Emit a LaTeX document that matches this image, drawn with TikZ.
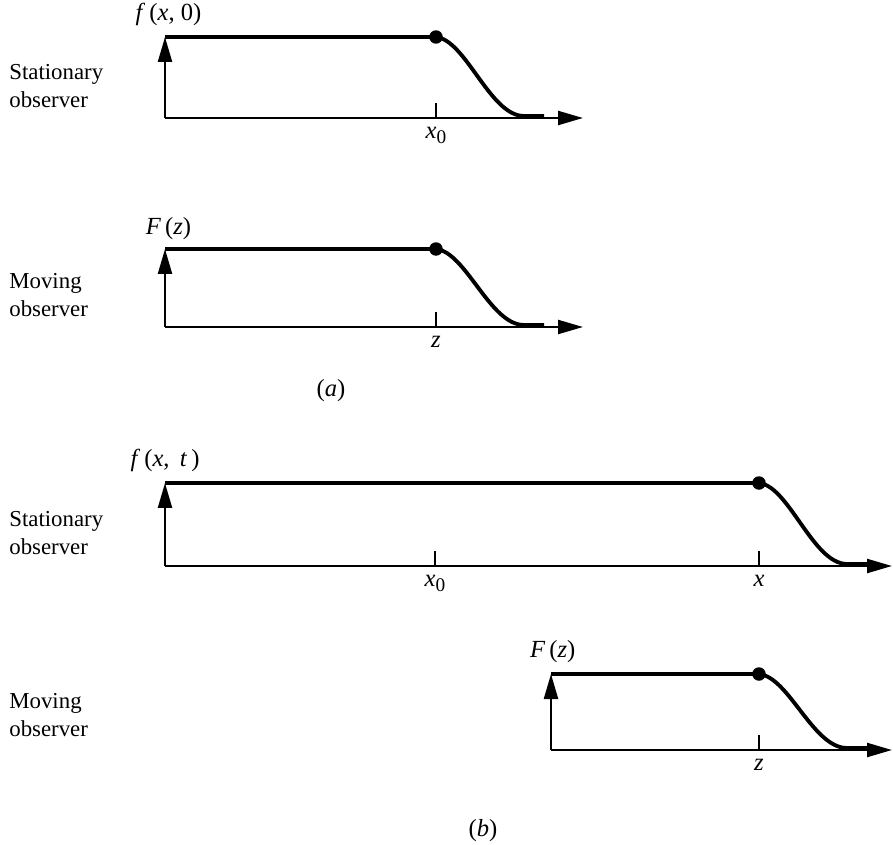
\documentclass[tikz,border=0pt]{standalone}
\usepackage{fontspec}
\setmainfont{Liberation Serif}
\usepackage{tikz}
\usetikzlibrary{arrows.meta,positioning}

\begin{document}
\begin{tikzpicture}[x=0.02cm, y=-0.02cm,
  axis/.style={line width=1.3pt, -{Triangle[length=5mm,width=2.8mm]}},
  curve/.style={line width=2.2pt, line join=round},
  tickmark/.style={line width=1.1pt},
  dot/.style={circle, fill=black, inner sep=0pt, minimum size=2.7mm},
  lab/.style={anchor=west, align=left, inner sep=0pt, font=\fontsize{13}{15.5}\selectfont},
  mlab/.style={inner sep=0pt, font=\fontsize{14}{16}\selectfont}
]
\useasboundingbox (0,0) rectangle (893,845);
% four panels: name / origin x / axis y / top y / dot x / arrow end
\foreach \n/\ox/\oy/\yt/\xd/\xe in {1/165/118/37/436/583, 2/165/327/249/436/583, 3/165/566/483/759/892, 4/551/750/674/759/892} {
  \coordinate (o\n) at (\ox,\oy);
  \coordinate (t\n) at (\ox,\yt);
  \coordinate (e\n) at (\xe,\oy);
  \coordinate (k\n) at (\xd,\oy);
  \draw[axis] (o\n) -- (t\n);
  \draw[axis] (o\n) -- (e\n);
  \draw[tickmark] (k\n) -- ++(0,-15);
  \node[dot] (d\n) at (\xd,\yt) {};
  \draw[curve] (t\n) -- (d\n.center) .. controls +(30,3) and +(-34,0) .. ++(88,\oy-\yt-2) -- ++(20,0);
}
\coordinate (k0) at (435,566);
\draw[tickmark] (k0) -- ++(0,-15);

\node[lab] (sa) at (9,86) {Stationary\\observer};
\node[lab] (ma) at (9,295) {Moving\\observer};
\node[lab] (sb) at (9,533) {Stationary\\observer};
\node[lab] (mb) at (9,715) {Moving\\observer};

\node[mlab, above=6pt of t1, xshift=2pt] (f1) {\textit{f}\,(\textit{x}, 0)};
\node[mlab, above=5pt of t2, xshift=2pt] (f2) {\textit{F}\,(\textit{z})};
\node[mlab, above=6pt of t3] (f3) {\textit{f}\,(\textit{x},\, \textit{t}\,)};
\node[mlab, above=6pt of t4, xshift=1pt] (f4) {\textit{F}\,(\textit{z})};

\node[mlab, below=5pt of k1] (x1) {\textit{x}\raisebox{-0.45ex}{\fontsize{11}{12}\selectfont 0}};
\node[mlab, below=5pt of k2] (z2) {\textit{z}};
\node[mlab, below=5pt of k0] (x0) {\textit{x}\raisebox{-0.45ex}{\fontsize{11}{12}\selectfont 0}};
\node[mlab, below=5pt of k3] (x3) {\textit{x}};
\node[mlab, below=5pt of k4] (z4) {\textit{z}};

\node[mlab] (capa) at (331,391) {(\textit{a})};
\node[mlab] (capb) at (483,831) {(\textit{b})};
\end{tikzpicture}
\end{document}
